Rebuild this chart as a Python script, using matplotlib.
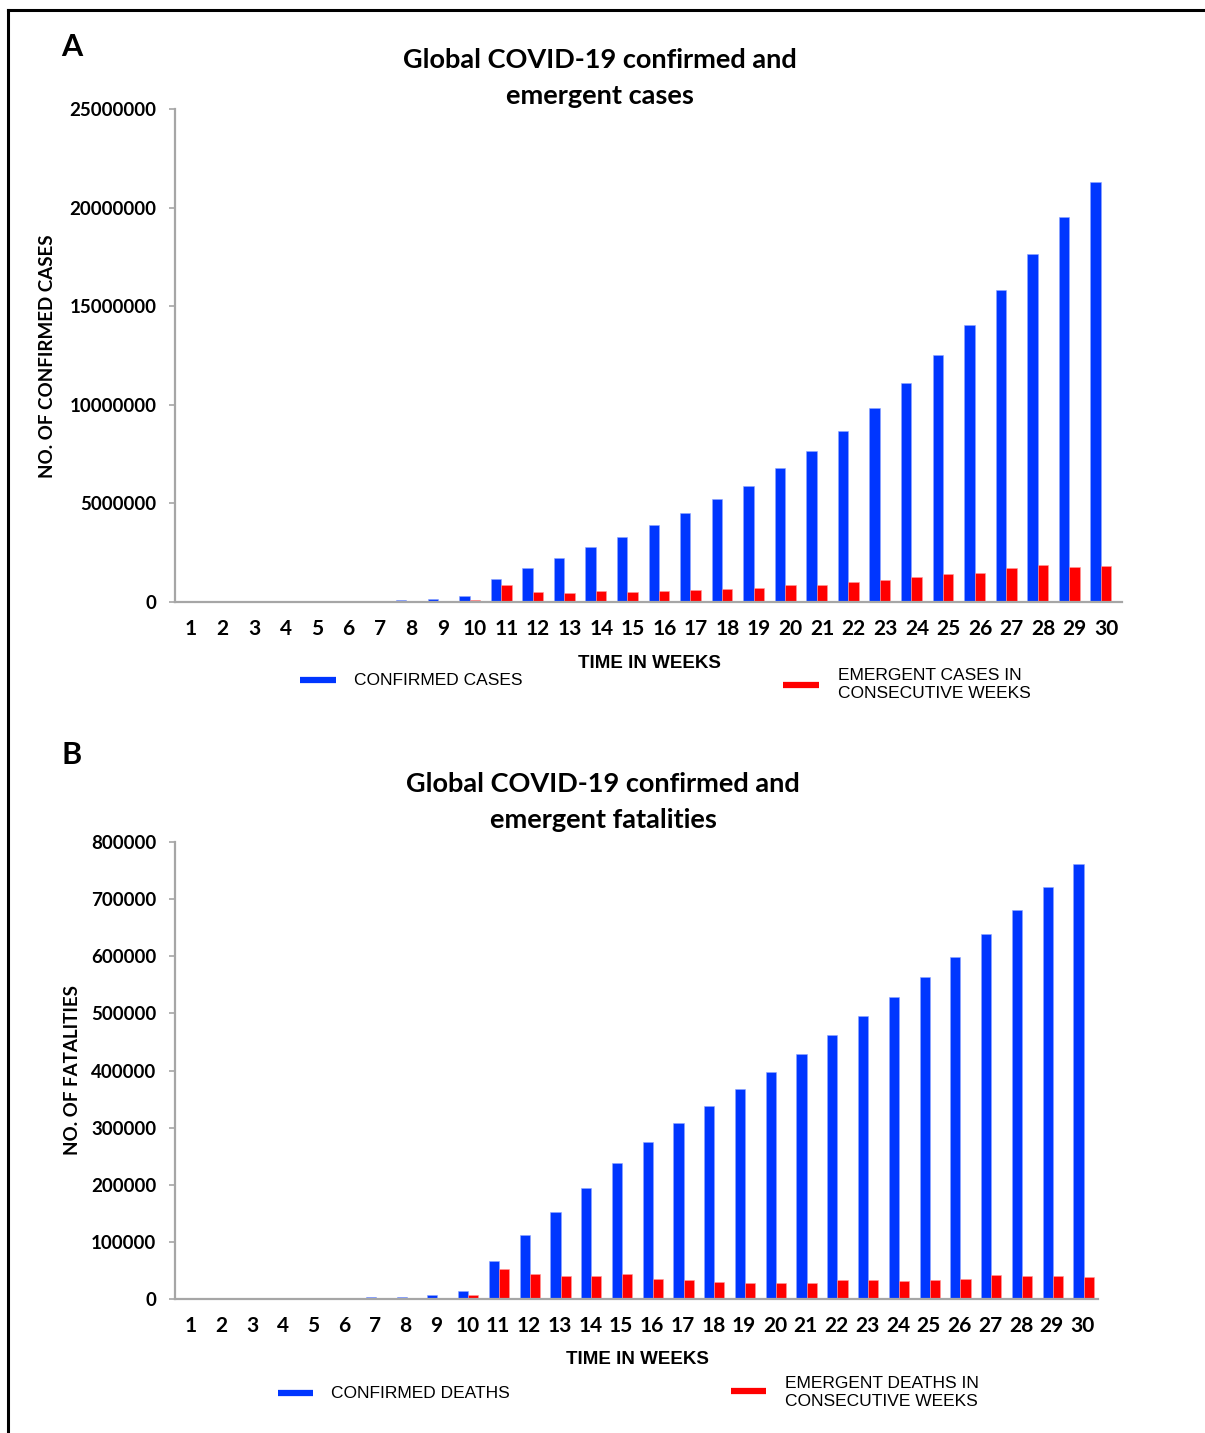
import matplotlib
matplotlib.use("Agg")
import matplotlib.pyplot as plt
import matplotlib.ticker as ticker
from matplotlib.lines import Line2D
import numpy as np

COLOR_CONFIRMED = "#0036ff"
COLOR_EMERGENT = "#ff0000"
COLOR_AXIS = "#a6a6a6"

BOLD_FONT = ["Lato", "DejaVu Sans"]
NARROW_FONT = ["Liberation Sans Narrow", "Liberation Sans", "DejaVu Sans"]

weeks = list(range(1, 31))

# panel A: cases
confirmed_cases = [300, 2000, 8000, 20000, 60000, 70000, 75000, 80000, 150000, 320000,
                   1180000, 1740000, 2220000, 2800000, 3300000, 3900000, 4500000, 5200000,
                   5900000, 6800000, 7650000, 8670000, 9840000, 11100000, 12500000,
                   14050000, 15800000, 17650000, 19500000, 21300000]
emergent_cases = [300, 1700, 6000, 12000, 20000, 12000, 8000, 6000, 20000, 117000,
                  850000, 520000, 460000, 560000, 520000, 560000, 590000, 660000,
                  710000, 850000, 860000, 1000000, 1100000, 1270000, 1400000,
                  1470000, 1710000, 1860000, 1770000, 1830000]

# panel B: fatalities
confirmed_deaths = [10, 100, 300, 800, 1200, 2400, 3500, 4000, 6500, 14000,
                    67000, 112000, 152000, 194000, 238000, 275000, 308000, 338000,
                    368000, 397000, 429000, 462000, 495000, 528000, 563000,
                    598000, 639000, 681000, 721000, 761000]
emergent_deaths = [10, 90, 200, 500, 400, 1200, 1100, 500, 2500, 7700,
                   52000, 44000, 40000, 40000, 44000, 35000, 32500, 30000,
                   28500, 28500, 28500, 33000, 33000, 31500, 32500,
                   35000, 42000, 40000, 41000, 38500]

W, H = 1205, 1433


def fx(px):
    return px / W


def fy(py):
    return 1 - py / H


def plot_panel(ax, blue, red, yticks, offset):
    x = np.array(weeks)
    bw = 0.33
    ax.bar(x + offset - bw / 2, blue, bw, color=COLOR_CONFIRMED,
           edgecolor="#8fa6ff", linewidth=0.4)
    ax.bar(x + offset + bw / 2, red, bw, color=COLOR_EMERGENT,
           edgecolor="#ff9a9a", linewidth=0.4)
    ax.set_xlim(0.5, 30.5)
    ax.set_ylim(yticks[0], yticks[-1])
    ax.set_yticks(yticks)
    ax.yaxis.set_major_formatter(ticker.FuncFormatter(lambda v, p: f"{int(v)}"))
    ax.set_xticks(x, [str(w) for w in weeks])
    for s in ["top", "right"]:
        ax.spines[s].set_visible(False)
    for s in ["left", "bottom"]:
        ax.spines[s].set_color(COLOR_AXIS)
        ax.spines[s].set_linewidth(1.6)
    ax.tick_params(axis="y", direction="out", length=4.5, width=1.2,
                   color=COLOR_AXIS, pad=9)
    ax.tick_params(axis="x", length=0, pad=12)
    for lab in ax.get_yticklabels():
        lab.set_fontfamily(BOLD_FONT)
        lab.set_fontweight("bold")
        lab.set_fontsize(13.5)
    for lab in ax.get_xticklabels():
        lab.set_fontfamily(BOLD_FONT)
        lab.set_fontweight("bold")
        lab.set_fontsize(15)


def legend_item(x0, x1, y, color, tx, ty, text):
    fig.add_artist(Line2D([fx(x0), fx(x1)], [fy(y), fy(y)], color=color,
                          linewidth=4.5, solid_capstyle="butt"))
    fig.text(fx(tx), fy(ty), text, fontsize=12.5, family=NARROW_FONT,
             ha="left", va="center", linespacing=1.25)


fig = plt.figure(figsize=(W / 100, H / 100), dpi=100)

# frame
fig.add_artist(Line2D([fx(8), fx(8)], [fy(10), 0], color="black", linewidth=2.2))
fig.add_artist(Line2D([fx(8), 1], [fy(10), fy(10)], color="black", linewidth=2.2))

# ---- panel A
axA = fig.add_axes([fx(175), fy(602), fx(1122) - fx(175), fy(109) - fy(602)])
plot_panel(axA, confirmed_cases, emergent_cases,
           [0, 5000000, 10000000, 15000000, 20000000, 25000000], -0.17)
fig.text(fx(72), fy(47), "A", fontsize=22, fontweight="bold", family=BOLD_FONT,
         ha="center", va="center")
fig.text(fx(600), fy(78), "Global COVID-19 confirmed and\nemergent cases",
         fontsize=19.5, fontweight="bold", family=BOLD_FONT, ha="center",
         va="center", linespacing=1.62)
fig.text(fx(48), fy(356), "NO. OF CONFIRMED CASES", rotation=90, fontsize=13.5,
         fontweight="bold", family=BOLD_FONT, ha="center", va="center")
fig.text(fx(649), fy(663), "TIME IN WEEKS", fontsize=13.5, fontweight="bold",
         family=NARROW_FONT, ha="center", va="center")
legend_item(300, 336, 680, COLOR_CONFIRMED, 354, 680, "CONFIRMED CASES")
legend_item(783, 819, 685, COLOR_EMERGENT, 838, 685,
            "EMERGENT CASES IN\nCONSECUTIVE WEEKS")

# ---- panel B
axB = fig.add_axes([fx(175), fy(1299), fx(1098) - fx(175), fy(842) - fy(1299)])
plot_panel(axB, confirmed_deaths, emergent_deaths,
           [0, 100000, 200000, 300000, 400000, 500000, 600000, 700000, 800000], 0.03)
fig.text(fx(72), fy(755), "B", fontsize=22, fontweight="bold", family=BOLD_FONT,
         ha="center", va="center")
fig.text(fx(603), fy(802), "Global COVID-19 confirmed and\nemergent fatalities",
         fontsize=19.5, fontweight="bold", family=BOLD_FONT, ha="center",
         va="center", linespacing=1.62)
fig.text(fx(72), fy(1070), "NO. OF FATALITIES", rotation=90, fontsize=13.5,
         fontweight="bold", family=BOLD_FONT, ha="center", va="center")
fig.text(fx(637), fy(1359), "TIME IN WEEKS", fontsize=13.5, fontweight="bold",
         family=NARROW_FONT, ha="center", va="center")
legend_item(278, 313, 1393, COLOR_CONFIRMED, 331, 1393, "CONFIRMED DEATHS")
legend_item(731, 766, 1391, COLOR_EMERGENT, 785, 1392,
            "EMERGENT DEATHS IN\nCONSECUTIVE WEEKS")

fig.savefig("out.png", dpi=100)
